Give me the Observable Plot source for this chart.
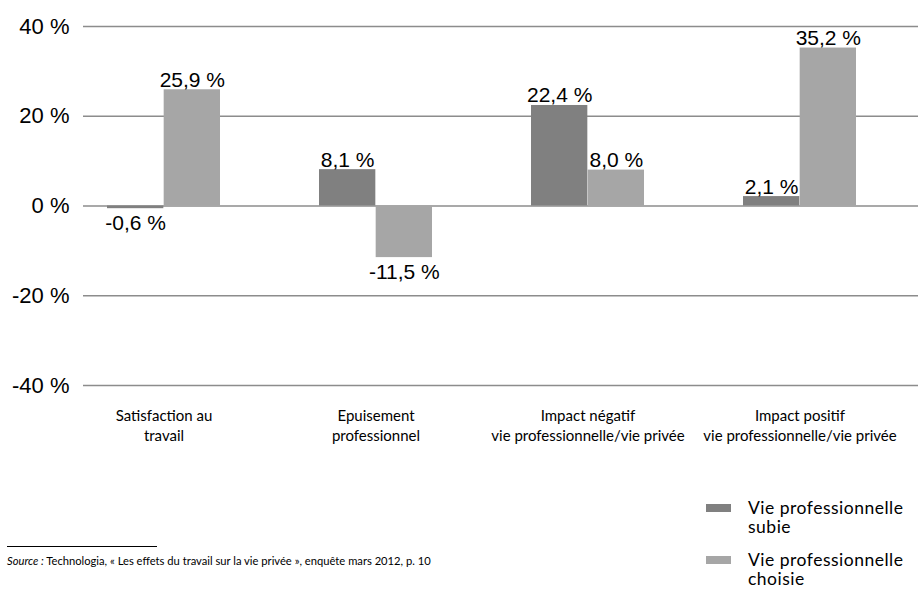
<!DOCTYPE html>
<html>
<head>
<meta charset="utf-8">
<script src="https://cdn.jsdelivr.net/npm/d3@7"></script>
<script src="https://cdn.jsdelivr.net/npm/@observablehq/plot@0.6"></script>
<style>
  body { margin: 0; background: #fff; }
  #wrap { position: relative; width: 922px; height: 590px; overflow: hidden; background: #fff; }
  #chart svg { display: block; }
  .leg { position: absolute; left: 748px; font-family: Lato, "Open Sans", sans-serif; font-size: 17.5px; letter-spacing: 0.5px; line-height: 19px; color: #000; white-space: pre; }
  .sw { position: absolute; left: 706px; width: 25px; height: 8px; }
  #source { position: absolute; left: 7px; top: 554px; font-family: Lato, "Open Sans", sans-serif; font-size: 11.2px; color: #000; white-space: nowrap; }
  #rule { position: absolute; left: 7px; top: 546px; width: 150px; height: 0; border-top: 1.5px solid #000; }
</style>
</head>
<body>
<div id="wrap">
  <div id="chart"></div>
  <div id="legend"></div>
  <div id="rule"></div>
  <div id="source"></div>
</div>
<script>
const categories = [
  "Satisfaction au\ntravail",
  "Epuisement\nprofessionnel",
  "Impact négatif\nvie professionnelle/vie privée",
  "Impact positif\nvie professionnelle/vie privée"
];
const seriesNames = ["Vie professionnelle\nsubie", "Vie professionnelle\nchoisie"];
const subie = [-0.6, 8.1, 22.4, 2.1];
const choisie = [25.9, -11.5, 8.0, 35.2];
const yTicks = [-40, -20, 0, 20, 40];
const colors = ["#808080", "#a6a6a6"];
const sourceLabel = "Source :";
const sourceText = "Technologia, « Les effets du travail sur la vie privée », enquête mars 2012, p. 10";

const fmt = v => v.toFixed(1).replace(".", ",") + " %";

const series = [subie, choisie];
const rows = categories.flatMap((c, i) => series.map((vals, k) => (
  {cat: c, series: seriesNames[k], value: vals[i], k}
)));

// band geometry
const rangeX = [57, 906];
const pIn = 0.466, pOut = 0.233;
const step = (rangeX[1] - rangeX[0]) / (categories.length - pIn + 2 * pOut);
const bw = step * (1 - pIn);
const half = bw / 2;

const barMarks = series.map((_, k) => Plot.barY(rows.filter(d => d.k === k), {
  x: "cat", y: "value", fill: colors[k],
  insetRight: k === 0 ? half : 0,
  insetLeft: k === 1 ? half : 0
}));

const labelMarks = series.flatMap((_, k) => {
  const dx = (k === 0 ? -1 : 1) * half / 2;
  return [
    Plot.text(rows.filter(d => d.k === k && d.value >= 0), {
      x: "cat", y: "value", text: d => fmt(d.value), dx,
      fontSize: 21, lineAnchor: "bottom", dy: -3, fill: "#000"
    }),
    Plot.text(rows.filter(d => d.k === k && d.value < 0), {
      x: "cat", y: "value", text: d => fmt(d.value), dx,
      fontSize: 21, lineAnchor: "top", dy: 6, fill: "#000"
    })
  ];
});

const chart = Plot.plot({
  width: 922,
  height: 470,
  marginTop: 26,
  marginBottom: 85,
  marginLeft: 83,
  marginRight: 4,
  x: {domain: categories, range: rangeX, paddingInner: pIn, paddingOuter: pOut, label: null},
  y: {domain: [-40, 40], label: null},
  style: {fontFamily: "'Liberation Sans', Arial, sans-serif", background: "#fff", color: "#000"},
  marks: [
    Plot.ruleY(yTicks, {stroke: "#8c8c8c", strokeWidth: 1.4}),
    Plot.axisY({ticks: yTicks, tickSize: 0, tickPadding: 14, tickFormat: d => `${d} %`, fontSize: 22, label: null}),
    Plot.axisX({tickSize: 0, tickPadding: 21, fontSize: 15, fontFamily: "Lato, 'Open Sans', sans-serif", lineHeight: 1.35, label: null}),
    ...barMarks,
    ...labelMarks
  ]
});
document.getElementById("chart").appendChild(chart);

// legend (HTML, below the SVG)
const legend = document.getElementById("legend");
const legTops = [498, 550];
seriesNames.forEach((name, k) => {
  const sw = document.createElement("div");
  sw.className = "sw";
  sw.style.top = (legTops[k] + 6) + "px";
  sw.style.background = colors[k];
  legend.appendChild(sw);
  const t = document.createElement("div");
  t.className = "leg";
  t.style.top = legTops[k] + "px";
  t.textContent = name;
  legend.appendChild(t);
});

const src = document.getElementById("source");
const em = document.createElement("i");
em.textContent = sourceLabel;
src.appendChild(em);
src.appendChild(document.createTextNode(" " + sourceText));
</script>
</body>
</html>
